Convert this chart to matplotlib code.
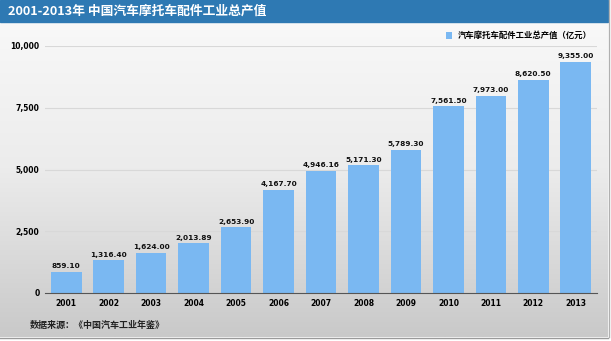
import numpy as np
import matplotlib
matplotlib.use('Agg')
import matplotlib.pyplot as plt
from matplotlib.patches import Rectangle

plt.rcParams['font.family'] = ['Noto Sans CJK SC', 'DejaVu Sans']

years = ['2001', '2002', '2003', '2004', '2005', '2006', '2007',
         '2008', '2009', '2010', '2011', '2012', '2013']
output_value = [859.10, 1316.40, 1624.00, 2013.89, 2653.90, 4167.70, 4946.16,
                5171.30, 5789.30, 7561.50, 7973.00, 8620.50, 9355.00]
yticks = [0, 2500, 5000, 7500, 10000]

title = '2001-2013年 中国汽车摩托车配件工业总产值'
legend_label = '汽车摩托车配件工业总产值（亿元）'
source = '数据来源：《中国汽车工业年鉴》'

bar_color = '#7ab8f2'
title_color = '#2e79b3'

fig = plt.figure(figsize=(6.11, 3.41), dpi=100)
fig.patch.set_facecolor('white')

# panel background with vertical gradient
bg = fig.add_axes([0, 0, 1, 1], zorder=0)
bg.set_xlim(0, 611)
bg.set_ylim(341, 0)
bg.axis('off')
grad = np.linspace(0, 1, 256).reshape(-1, 1)
cmap = matplotlib.colors.LinearSegmentedColormap.from_list(
    'panel', ['#fafafa', '#ececec', '#c9c9c9'])
bg.imshow(grad, cmap=cmap, extent=[0, 608, 337, 0], aspect='auto')
bg.add_patch(Rectangle((0, 0), 608, 22, color=title_color))
bg.add_line(plt.Line2D([0, 608], [337.5, 337.5], color='#9a9a9a', lw=1))
bg.add_line(plt.Line2D([608.5, 608.5], [0, 337], color='#b0b0b0', lw=1))
bg.text(8, 11.5, title, color='white', fontsize=9.2, fontweight='bold',
        va='center', ha='left')
bg.text(30, 325, source, fontsize=6.5, fontweight='bold', color='#222222',
        va='center', ha='left')

ax = fig.add_axes([45 / 611, 1 - 293 / 341, 552 / 611, 247 / 341], zorder=1)
ax.patch.set_alpha(0)
x = np.arange(len(years))
bars = ax.bar(x, output_value, width=0.72, color=bar_color, zorder=2,
              label=legend_label)
for xi, v in zip(x, output_value):
    ax.text(xi, v + 110, f'{v:,.2f}', ha='center', va='bottom',
            fontsize=5.3, fontweight='bold', color='#111111',
            family='DejaVu Sans')

ax.set_xlim(-0.5, 12.5)
ax.set_ylim(0, 10000)
ax.set_yticks(yticks)
ax.set_yticklabels([f'{t:,}' for t in yticks], fontsize=5.5,
                   fontweight='bold', family='DejaVu Sans')
ax.set_xticks(x)
ax.set_xticklabels(years, fontsize=5.5, fontweight='bold', family='DejaVu Sans')
ax.tick_params(length=0, pad=4)
ax.yaxis.grid(True, color='#d8d8d8', lw=0.8, zorder=0)
ax.set_axisbelow(True)
for s in ['top', 'right', 'left']:
    ax.spines[s].set_visible(False)
ax.spines['bottom'].set_color('#555555')
ax.spines['bottom'].set_linewidth(0.8)

ax.legend(loc='upper right', bbox_to_anchor=(1.005, 1.09), frameon=False,
          prop={'size': 6, 'weight': 'bold'}, handlelength=0.8,
          handleheight=0.8, handletextpad=0.7)

fig.savefig('out.png', dpi=100)
